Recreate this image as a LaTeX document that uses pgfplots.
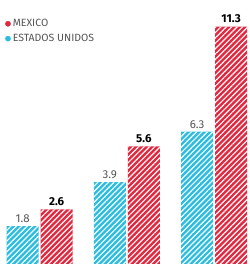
\documentclass[border=0pt]{standalone}
\usepackage{pgfplots}
\pgfplotsset{compat=1.18}
\usepackage{fontspec}
\setmainfont{Fira Sans}
\usetikzlibrary{patterns.meta}
\definecolor{mxred}{HTML}{E2283F}
\definecolor{usblue}{HTML}{2BBDE0}
\definecolor{txtgray}{HTML}{555555}
\begin{document}
\begin{tikzpicture}
\begin{axis}[
  scale only axis, width=249pt, height=264pt,
  hide axis,
  xmin=-0.454, xmax=2.40, ymin=0, ymax=12.57,
  ybar, bar width=32pt,
  clip=false,
  nodes near coords,
  /pgf/number format/fixed, /pgf/number format/precision=1,
  /pgf/number format/fixed zerofill,
  /pgf/number format/assume math mode=true,
  legend style={draw=none, fill=none, at={(0.02,0.935)}, anchor=north west,
    font=\fontsize{10.5}{12}\selectfont\color{txtgray}, row sep=2pt,
    inner sep=0pt},
  legend cell align=left,
]
\coordinate (ll) at (rel axis cs:0,0);
\coordinate (ur) at (rel axis cs:1,1);
\addplot[forget plot, draw=none, fill=usblue, bar shift=-17pt,
  postaction={pattern={Lines[angle=45,distance=3.8pt,line width=1.2pt]}, pattern color=white},
  nodes near coords style={font=\fontsize{11.5}{13}\selectfont, text=txtgray}]
  coordinates {(0,1.8) (1,3.9) (2,6.3)};
\addplot[forget plot, draw=none, fill=mxred, bar shift=17pt,
  postaction={pattern={Lines[angle=45,distance=3.8pt,line width=1.2pt]}, pattern color=white},
  nodes near coords style={font=\fontsize{11.5}{13}\selectfont\bfseries, text=black}]
  coordinates {(0,2.6) (1,5.6) (2,11.3)};
\addlegendimage{legend image code/.code={\fill[mxred] (0.1cm,0cm) circle (2.6pt);}}
\addlegendentry{MEXICO}
\addlegendimage{legend image code/.code={\fill[usblue] (0.1cm,0cm) circle (2.6pt);}}
\addlegendentry{ESTADOS UNIDOS}
\end{axis}
\pgfresetboundingbox
\useasboundingbox (ll) rectangle (ur);
\end{tikzpicture}
\end{document}
